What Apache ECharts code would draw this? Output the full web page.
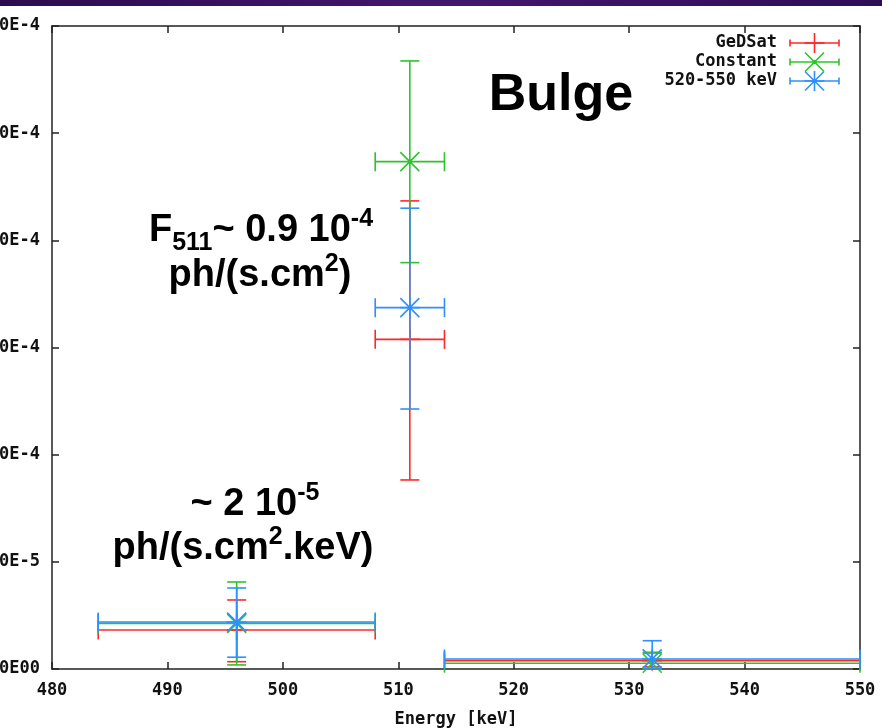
<!DOCTYPE html>
<html><head><meta charset="utf-8">
<script src="https://cdn.jsdelivr.net/npm/echarts@6/dist/echarts.min.js"></script>
<style>html,body{margin:0;padding:0;background:#fff;overflow:hidden}#c{width:882px;height:728px}</style>
</head><body><div id="c"></div>
<script>
// ---- data ----
const energy = [496, 511, 532];
const energyLow = [484, 508, 514];
const energyHigh = [508, 514, 550];
const gedsat = [1.82e-5, 1.538e-4, 0.39e-5];
const gedsatLow = [0.34e-5, 0.882e-4, 0.1e-5];
const gedsatHigh = [3.22e-5, 2.184e-4, 0.75e-5];
const constant = [2.13e-5, 2.367e-4, 0.27e-5];
const constantLow = [0.19e-5, 1.896e-4, 0];
const constantHigh = [4.06e-5, 2.837e-4, 0.78e-5];
const band = [2.19e-5, 1.686e-4, 0.47e-5];
const bandLow = [0.55e-5, 1.213e-4, 0];
const bandHigh = [3.78e-5, 2.15e-4, 1.32e-5];
const seriesNames = ['GeDSat', 'Constant', '520-550 keV'];
const yTickLabels = ['0.00E00', '5.00E-5', '1.00E-4', '1.50E-4', '2.00E-4', '2.50E-4', '3.00E-4'];
const xTickValues = [480, 490, 500, 510, 520, 530, 540, 550];

// ---- styling ----
const colors = ['#ff2828', '#2cc42c', '#2e90ff'];
const markers = ['plus', 'cross', 'star'];
const LW = 1.6;
const monoFont = '"DejaVu Sans Mono", monospace';
const frameColor = '#222';

function rows(y, lo, hi) {
  return energy.map((e, i) => [e, energyLow[i], energyHigh[i], y[i], lo[i], hi[i]]);
}
const seriesData = [rows(gedsat, gedsatLow, gedsatHigh), rows(constant, constantLow, constantHigh), rows(band, bandLow, bandHigh)];

function line(x1, y1, x2, y2, color) {
  return { type: 'line', shape: { x1, y1, x2, y2 }, style: { stroke: color, lineWidth: LW } };
}
function markerEls(type, cx, cy, r, color) {
  const els = [];
  if (type === 'plus' || type === 'star') {
    els.push(line(cx - r, cy, cx + r, cy, color), line(cx, cy - r, cx, cy + r, color));
  }
  if (type === 'cross' || type === 'star') {
    const d = r * 0.95;
    els.push(line(cx - d, cy - d, cx + d, cy + d, color), line(cx - d, cy + d, cx + d, cy - d, color));
  }
  if (type !== 'plus') els.push({ type: 'circle', shape: { cx, cy, r: 2.2 }, style: { fill: color } });
  return els;
}
function makeRender(k) {
  const color = colors[k];
  return function (params, api) {
    const x = api.value(0), xl = api.value(1), xh = api.value(2);
    const y = api.value(3), yl = api.value(4), yh = api.value(5);
    const c = api.coord([x, y]);
    const pl = api.coord([xl, y]), ph = api.coord([xh, y]);
    const pLo = api.coord([x, yl]), pHi = api.coord([x, yh]);
    const cap = 9.5;
    const children = [
      line(pl[0], pl[1], ph[0], ph[1], color),
      line(pl[0], pl[1] - cap, pl[0], pl[1] + cap, color),
      line(ph[0], ph[1] - cap, ph[0], ph[1] + cap, color),
      line(pLo[0], pLo[1], pHi[0], pHi[1], color),
      line(pLo[0] - cap, pLo[1], pLo[0] + cap, pLo[1], color),
      line(pHi[0] - cap, pHi[1], pHi[0] + cap, pHi[1], color)
    ].concat(markerEls(markers[k], c[0], c[1], 10, color));
    return { type: 'group', children };
  };
}

// ---- annotation text with sub/superscripts ----
const mctx = document.createElement('canvas').getContext('2d');
const sansFont = s => `bold ${s}px "Liberation Sans", Arial, sans-serif`;
function textRun(pieces, cx, baseline) {
  let total = 0;
  pieces.forEach(p => { mctx.font = sansFont(p.s); p.w = mctx.measureText(p.t).width; total += p.w; });
  let x = cx - total / 2;
  return pieces.map(p => {
    const el = {
      type: 'text', x: x, y: baseline + (p.dy || 0) - 0.34 * p.s, z: 20,
      style: { text: p.t, font: sansFont(p.s), fill: '#000', align: 'left', verticalAlign: 'middle', textAlign: 'left', textVerticalAlign: 'middle' }
    };
    x += p.w;
    return el;
  });
}

// ---- legend drawn as graphics ----
const legendRows = [43, 62, 81];
const legendEls = [];
seriesNames.forEach((n, k) => {
  const y = legendRows[k];
  legendEls.push({ type: 'text', x: 777, y: y, z: 20, style: { text: n, font: `bold 17px ${monoFont}`, fill: '#111', align: 'right', verticalAlign: 'middle', textAlign: 'right', textVerticalAlign: 'middle' } });
  const a = 790, b = 839, m = 814.5;
  legendEls.push(
    Object.assign(line(a, y, b, y, colors[k]), { z: 20 }),
    Object.assign(line(a, y - 3.5, a, y + 3.5, colors[k]), { z: 20 }),
    Object.assign(line(b, y - 3.5, b, y + 3.5, colors[k]), { z: 20 })
  );
  markerEls(markers[k], m, y, 10, colors[k]).forEach(e => { e.z = 20; legendEls.push(e); });
});

const chart = echarts.init(document.getElementById('c'), null, { renderer: 'canvas' });

const axisCommon = {
  type: 'value',
  axisLine: { show: true, onZero: false, lineStyle: { color: frameColor, width: 1.5 } },
  axisTick: { show: true, inside: true, length: 7, lineStyle: { color: frameColor, width: 1.5 } },
  splitLine: { show: false }
};
const tickLabelStyle = { fontFamily: monoFont, fontWeight: 'bold', fontSize: 17, color: '#111' };

chart.setOption({
  animation: false,
  backgroundColor: '#fff',
  grid: { left: 52, right: 22, top: 26, bottom: 59, show: false, containLabel: false, outerBoundsMode: 'none' },
  xAxis: [
    Object.assign({}, axisCommon, {
      min: xTickValues[0], max: xTickValues[xTickValues.length - 1], interval: 10, position: 'bottom',
      axisLabel: Object.assign({ margin: 13 }, tickLabelStyle),
      name: 'Energy [keV]', nameLocation: 'middle', nameGap: 42,
      nameTextStyle: { fontFamily: monoFont, fontWeight: 'bold', fontSize: 17, color: '#111' }
    }),
    Object.assign({}, axisCommon, {
      min: xTickValues[0], max: xTickValues[xTickValues.length - 1], interval: 10, position: 'top',
      axisLabel: { show: false }
    })
  ],
  yAxis: [
    Object.assign({}, axisCommon, {
      min: 0, max: 3e-4, interval: 5e-5, position: 'left',
      axisLabel: Object.assign({ margin: 12, formatter: v => yTickLabels[Math.round(v / 5e-5)] }, tickLabelStyle)
    }),
    Object.assign({}, axisCommon, {
      min: 0, max: 3e-4, interval: 5e-5, position: 'right',
      axisLabel: { show: false }
    })
  ],
  series: seriesNames.map((n, k) => ({
    type: 'custom', name: n, xAxisIndex: 0, yAxisIndex: 0,
    data: seriesData[k], encode: { x: 0, y: 3 },
    renderItem: makeRender(k), z: 10 + k
  })),
  graphic: [
    { type: 'rect', x: 0, y: 0, shape: { width: 882, height: 6 }, z: 30,
      style: { fill: new echarts.graphic.LinearGradient(0, 0, 1, 0, [{ offset: 0, color: '#2c0c4e' }, { offset: 0.5, color: '#43166e' }, { offset: 1, color: '#2f0d55' }]) } }
  ].concat(
    textRun([{ t: 'Bulge', s: 52 }], 561, 113),
    textRun([{ t: 'F', s: 38 }, { t: '511', s: 25, dy: 9 }, { t: '~ 0.9 10', s: 38 }, { t: '-4', s: 25, dy: -15 }], 261, 243),
    textRun([{ t: 'ph/(s.cm', s: 38 }, { t: '2', s: 25, dy: -15 }, { t: ')', s: 38 }], 260, 288),
    textRun([{ t: '~ 2 10', s: 38 }, { t: '-5', s: 25, dy: -15 }], 255, 517),
    textRun([{ t: 'ph/(s.cm', s: 38 }, { t: '2', s: 25, dy: -15 }, { t: '.keV)', s: 38 }], 243, 561),
    legendEls
  )
});
</script>
</body></html>
